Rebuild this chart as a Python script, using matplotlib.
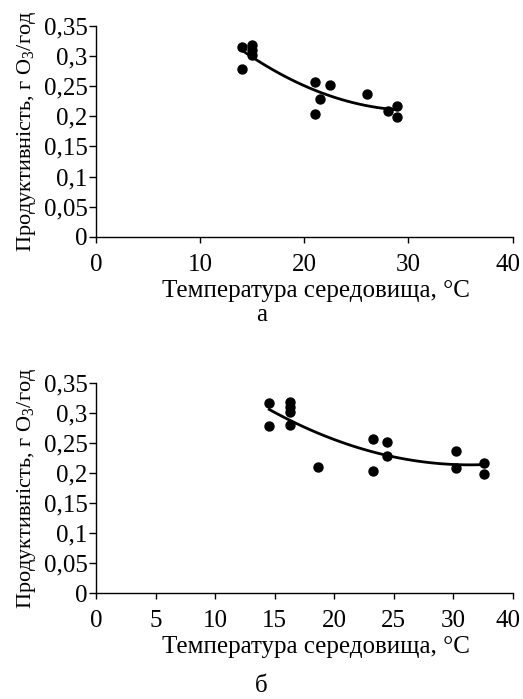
import numpy as np
import matplotlib
matplotlib.use("Agg")
import matplotlib.pyplot as plt
import matplotlib.transforms as mtransforms

plt.rcParams['font.family'] = ['Liberation Serif', 'DejaVu Serif']
plt.rcParams['mathtext.fontset'] = 'custom'
plt.rcParams['mathtext.rm'] = 'Liberation Serif'
plt.rcParams['mathtext.it'] = 'Liberation Serif'

# дані, графік а
temp_a = [14, 14, 15, 15, 15, 21, 21, 21.5, 22.5, 26, 28, 28.9, 28.9]
prod_a = [0.315, 0.279, 0.318, 0.310, 0.302, 0.2565, 0.2035, 0.229, 0.251,
          0.2366, 0.209, 0.217, 0.198]

# дані, графік б
temp_b = [14.56, 14.56, 16.3, 16.3, 16.3, 16.3, 18.62, 23.29, 23.29, 24.44,
          24.44, 30.25, 30.25, 32.58, 32.58]
prod_b = [0.3158, 0.2786, 0.318, 0.310, 0.302, 0.279, 0.2104, 0.2565, 0.2033,
          0.251, 0.2287, 0.2365, 0.2077, 0.216, 0.1977]

yticks = [0, 0.05, 0.1, 0.15, 0.2, 0.25, 0.3, 0.35]
ytick_labels = ['0', '0,05', '0,1', '0,15', '0,2', '0,25', '0,3', '0,35']
xticks_a = [0, 10, 20, 30, 40]
xticks_b = [0, 5, 10, 15, 20, 25, 30, 35]
xtick_labels_b = ['0', '5', '10', '15', '20', '25', '30', '40']

xlabel = 'Температура середовища, °С'
ylabel = r'Продуктивність, г O$_3$/год'
FS = 18

fig = plt.figure(figsize=(5.23, 6.99), dpi=100)
ax1 = fig.add_axes([0.1836, 0.661, 0.7964, 0.3022])
ax2 = fig.add_axes([0.1836, 0.1512, 0.7964, 0.3013])


def style(ax, xmax, xt, xtl):
    ax.set_xlim(0, xmax)
    ax.set_ylim(0, 0.35)
    ax.set_xticks(xt)
    ax.set_xticklabels(xtl)
    ax.set_yticks(yticks)
    ax.set_yticklabels(ytick_labels)
    for s in ['top', 'right']:
        ax.spines[s].set_visible(False)
    for s in ['left', 'bottom']:
        ax.spines[s].set_linewidth(1.0)
    ax.tick_params(axis='x', direction='out', length=4, width=1, pad=8, labelsize=FS)
    ax.tick_params(axis='y', direction='out', length=5, width=1, pad=1, labelsize=FS)
    # остання мітка трохи лівіше, щоб не обрізалась
    last = ax.get_xticklabels()[-1]
    last.set_transform(last.get_transform() +
                       mtransforms.ScaledTranslation(-5 / 100, 0, fig.dpi_scale_trans))
    ax.set_xlabel(xlabel, fontsize=FS, va='center')
    ax.xaxis.set_label_coords(0.528, -0.255)
    ax.set_ylabel(ylabel, fontsize=16, va='center')
    ax.yaxis.set_label_coords(-0.168, 0.5)


def trend(ax, x, y):
    c = np.polyfit(x, y, 2)
    xs = np.linspace(min(x), max(x), 100)
    ax.plot(xs, np.polyval(c, xs), color='black', lw=2, zorder=2)


ax1.scatter(temp_a, prod_a, s=42, color='black', zorder=3)
trend(ax1, temp_a, prod_a)
style(ax1, 40, xticks_a, [str(t) for t in xticks_a])

ax2.scatter(temp_b, prod_b, s=42, color='black', zorder=3)
trend(ax2, temp_b, prod_b)
style(ax2, 35, xticks_b, xtick_labels_b)

fig.text(0.50, 1 - 315 / 699, 'а', ha='center', va='center', fontsize=FS)
fig.text(0.50, 1 - 686 / 699, 'б', ha='center', va='center', fontsize=FS)

fig.savefig('out.png', dpi=100)
